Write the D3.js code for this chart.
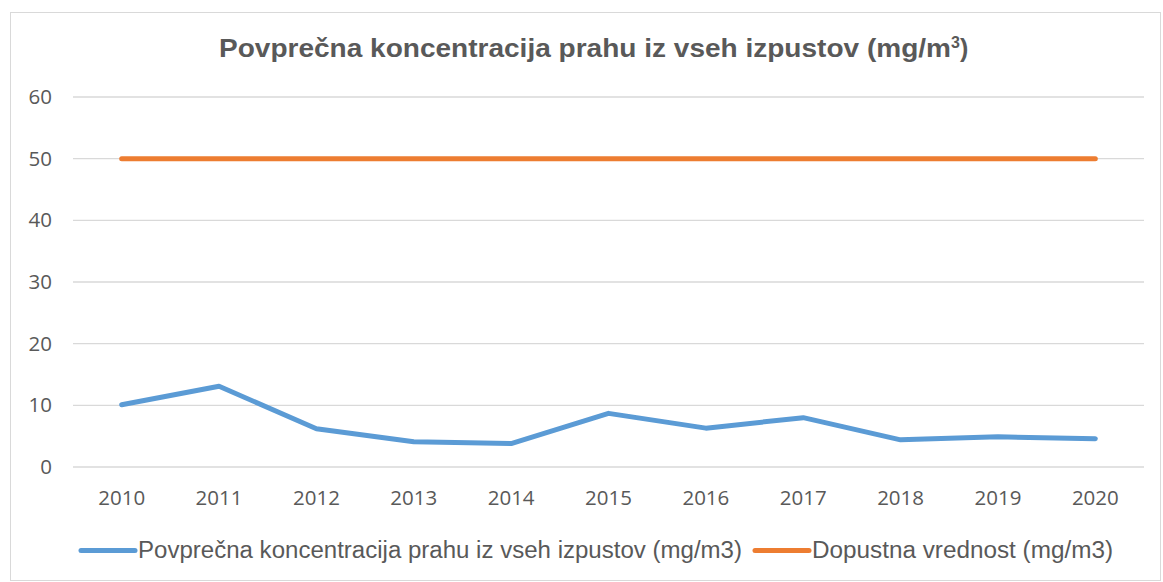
<!DOCTYPE html>
<html><head><meta charset="utf-8">
<script src="https://cdn.jsdelivr.net/npm/d3@7"></script>
<style>body{margin:0;background:#fff}svg{display:block}</style>
</head><body>
<script>
const years = ["2010","2011","2012","2013","2014","2015","2016","2017","2018","2019","2020"];
const concentration = [10.1, 13.1, 6.2, 4.1, 3.8, 8.7, 6.3, 8.0, 4.4, 4.9, 4.6];
const limitValues = [50, 50, 50, 50, 50, 50, 50, 50, 50, 50, 50];
const yTicks = [0, 10, 20, 30, 40, 50, 60];
const title = "Povprečna koncentracija prahu iz vseh izpustov (mg/m";
const seriesNames = ["Povprečna koncentracija prahu iz vseh izpustov (mg/m3)", "Dopustna vrednost (mg/m3)"];
const colors = ["#5b9bd5", "#ed7d31"];

const W = 1163, H = 582;
const svg = d3.select("body").append("svg").attr("width", W).attr("height", H);
svg.append("rect").attr("x", 10.5).attr("y", 12.5).attr("width", 1150).attr("height", 568)
  .attr("fill", "#fff").attr("stroke", "#d9d9d9");

const x = d3.scaleBand().domain(years).range([73, 1144]);
const y = d3.scaleLinear().domain([0, 60]).range([467, 97]);

const t = svg.append("text").attr("x", 219).attr("y", 57)
  .attr("font-family", "Liberation Sans, Arial, sans-serif").attr("font-weight", "bold")
  .attr("font-size", 25).attr("fill", "#595959");
t.append("tspan").text(title).attr("textLength", 732).attr("lengthAdjust", "spacingAndGlyphs");
t.append("tspan").attr("dy", -9).attr("font-size", 16).text("3");
t.append("tspan").attr("dy", 9).text(")");

// grid
svg.append("g").selectAll("line").data(yTicks).join("line")
  .attr("x1", 73).attr("x2", 1144).attr("y1", d => y(d)).attr("y2", d => y(d))
  .attr("stroke", "#d9d9d9").attr("stroke-width", 1.3);

const yAxis = svg.append("g").attr("transform", "translate(73,0)")
  .call(d3.axisLeft(y).tickValues(yTicks).tickSize(0).tickPadding(21));
yAxis.select(".domain").remove();
yAxis.attr("font-size", null).attr("font-family", null);
yAxis.selectAll("text").style("font-family", "Open Sans, Noto Sans, sans-serif").style("font-size", "20.5px").attr("fill", "#595959");

const xAxis = svg.append("g").attr("transform", "translate(0,467)")
  .call(d3.axisBottom(x).tickSize(0).tickPadding(23));
xAxis.select(".domain").remove();
xAxis.attr("font-size", null).attr("font-family", null);
xAxis.selectAll("text").style("font-family", "Open Sans, Noto Sans, sans-serif").style("font-size", "20.5px").attr("fill", "#595959");

const line = d3.line().x((d, i) => x(years[i]) + x.bandwidth() / 2).y(d => y(d));
[concentration, limitValues].forEach((s, k) => {
  svg.append("path").datum(s).attr("d", line).attr("fill", "none")
    .attr("stroke", colors[k]).attr("stroke-width", 5).attr("stroke-linecap", "round").attr("stroke-linejoin", "round");
});

// legend
const leg = [{x1: 81, x2: 135, tx: 138, tl: 604}, {x1: 755, x2: 809, tx: 812, tl: 301}];
leg.forEach((l, k) => {
  svg.append("line").attr("x1", l.x1).attr("x2", l.x2).attr("y1", 550.5).attr("y2", 550.5)
    .attr("stroke", colors[k]).attr("stroke-width", 5).attr("stroke-linecap", "round");
  svg.append("text").attr("x", l.tx).attr("y", 558).text(seriesNames[k])
    .attr("font-family", "Liberation Sans Narrow, Arial Narrow, Liberation Sans, sans-serif")
    .attr("font-size", 23).attr("fill", "#595959")
    .attr("textLength", l.tl).attr("lengthAdjust", "spacingAndGlyphs");
});
</script>
</body></html>
